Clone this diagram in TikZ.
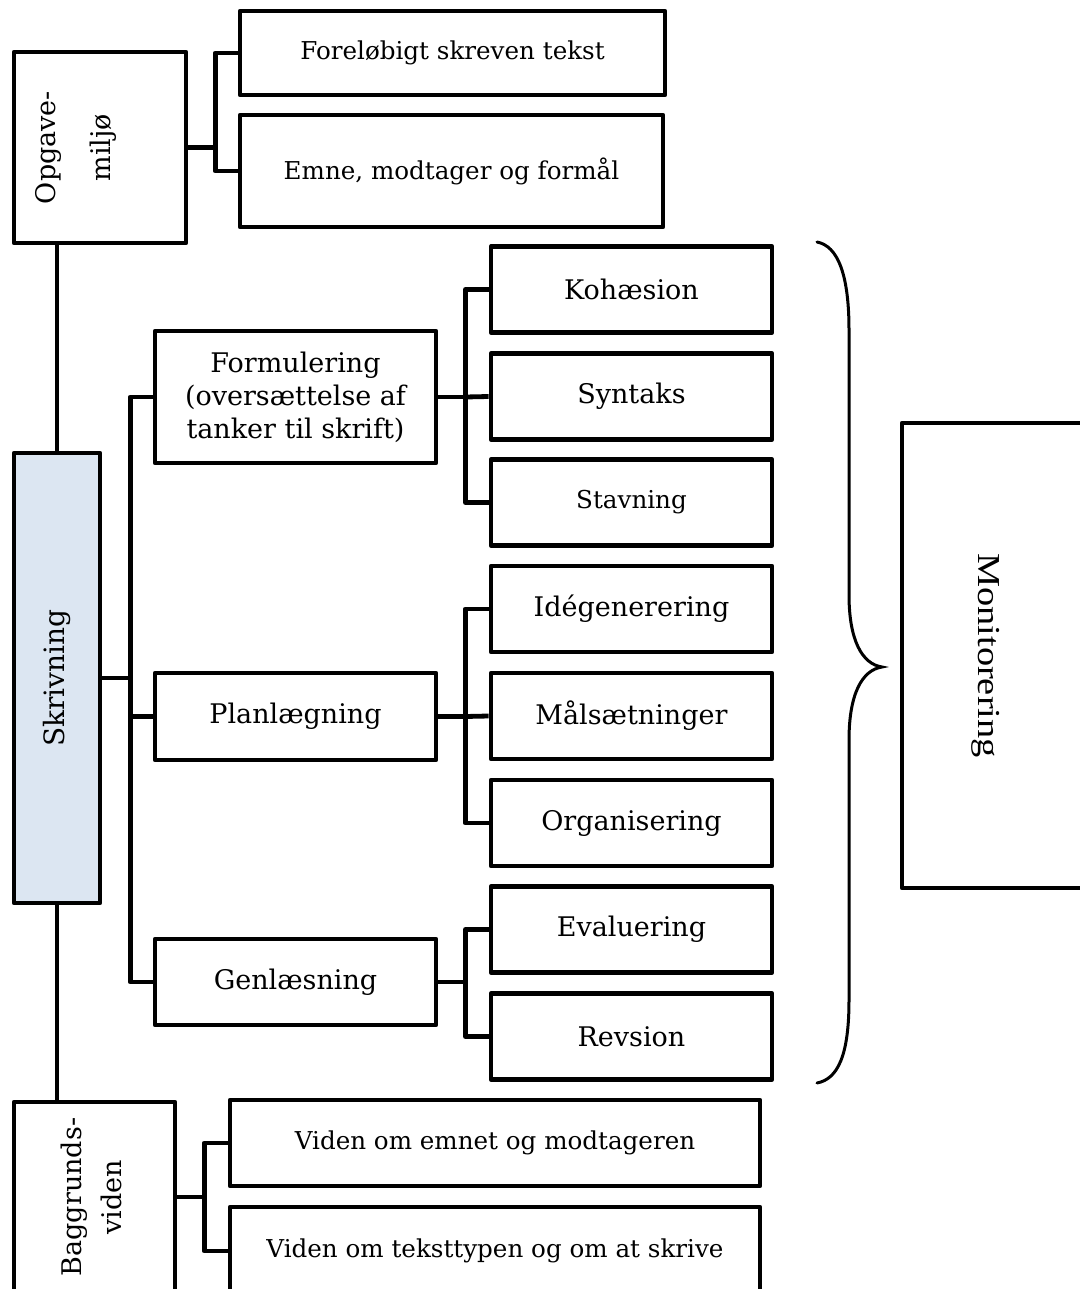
\documentclass[tikz,border=0pt]{standalone}
\usepackage{fontspec}
\setmainfont{DejaVu Serif}
\newfontfamily\monfont{Liberation Serif}
\usepackage{tikz}
\definecolor{skrivblue}{HTML}{DCE6F2}

\begin{document}
\begin{tikzpicture}[x=0.5pt,y=-0.5pt,
  box/.style={draw,line width=2.4pt,line join=round,inner sep=2pt,align=center,font=\fontsize{13.5}{16.5}\selectfont},
  smallbox/.style={box,font=\fontsize{12.3}{15}\selectfont},
  leaf/.style={box,minimum width=140.5pt,minimum height=43pt},
  link/.style={line width=2.4pt,line join=round},
  brace/.style={line width=1.5pt,line cap=round}]
\path[use as bounding box,clip] (0,0) rectangle (1080,1289);

\node [box,minimum width=86pt,minimum height=95.5pt] (opg) at (100,147.5)
  {\rotatebox{90}{\begin{tabular}{@{}c@{}}Opgave-\\[11pt]miljø\end{tabular}}\hspace{24pt}};
\node [smallbox,minimum width=212.5pt,minimum height=42pt] (tekst) at (452.5,53) {Foreløbigt skreven tekst};
\node [smallbox,minimum width=211.5pt,minimum height=56pt] (emne) at (451.5,171) {Emne, modtager og formål};

\node [box,fill=skrivblue,minimum width=43pt,minimum height=225pt] (skriv) at (57,678)
  {\rotatebox{90}{\fontsize{14}{17}\selectfont Skrivning}};

\node [box,minimum width=140.5pt,minimum height=66pt] (form) at (295.5,397) {Formulering\\(oversættelse af\\tanker til skrift)};
\node [box,minimum width=140.5pt,minimum height=43.5pt] (plan) at (295.5,716.5) {Planlægning};
\node [box,minimum width=140.5pt,minimum height=43pt] (genl) at (295.5,982) {Genlæsning};

\node [leaf] (koh) at (631.5,289.5) {Kohæsion};
\node [leaf] (syn) at (631.5,396.5) {Syntaks};
\node [leaf,font=\fontsize{12.3}{15}\selectfont] (stav) at (631.5,502.5) {Stavning};
\node [leaf] (ide) at (631.5,609) {Idégenerering};
\node [leaf] (maal) at (631.5,716) {Målsætninger};
\node [leaf] (org) at (631.5,823) {Organisering};
\node [leaf] (eval) at (631.5,929.5) {Evaluering};
\node [leaf] (rev) at (631.5,1036.5) {Revsion};

\node [box,minimum width=92pt,minimum height=232.5pt] (mon) at (994,655.5)
  {\rotatebox{-90}{\monfont\fontsize{16}{19}\selectfont\scalebox{1.2}[1]{Monitorering}}\hspace{8pt}};

\node [box,minimum width=80.5pt,minimum height=95pt] (bag) at (94.5,1197)
  {\rotatebox{90}{\begin{tabular}{@{}c@{}}Baggrunds-\\[3.5pt]viden\end{tabular}}};
\node [smallbox,minimum width=265pt,minimum height=43pt] (vem) at (495,1143) {Viden om emnet og modtageren};
\node [smallbox,minimum width=265pt,minimum height=44pt] (vtt) at (495,1251) {Viden om teksttypen og om at skrive};

\draw [link] (skriv.north) -- (skriv.north |- opg.south);
\draw [link] (skriv.south) -- (skriv.south |- bag.north);

\draw [link] (opg.east) -- ++(27,0) coordinate (fo);
\draw [link] (tekst.west) -| (fo) |- (emne.west);

\draw [link] (skriv.east) -- ++(28,0) coordinate (fs);
\draw [link] (form.west) -| (fs) |- (genl.west);
\draw [link] (fs |- plan.west) -- (plan.west);

\draw [link] (form.east) -- ++(27,0) coordinate (ff);
\draw [link] (koh.west) -| (ff) |- (stav.west);
\draw [link] (ff) -- (syn.west);

\draw [link] (plan.east) -- ++(27,0) coordinate (fp);
\draw [link] (ide.west) -| (fp) |- (org.west);
\draw [link] (fp) -- (maal.west);

\draw [link] (genl.east) -- ++(27,0) coordinate (fg);
\draw [link] (eval.west) -| (fg) |- (rev.west);

\draw [link] (bag.east) -- ++(27,0) coordinate (fb);
\draw [link] (vem.west) -| (fb) |- (vtt.west);

\draw [brace] (817,242) .. controls (838,246) and (849,275) .. (849,330) -- (849,595)
  .. controls (849,640) and (862,664) .. (882,667)
  .. controls (862,670) and (849,694) .. (849,740) -- (849,1000)
  .. controls (849,1055) and (838,1079) .. (817,1083);
\end{tikzpicture}
\end{document}
